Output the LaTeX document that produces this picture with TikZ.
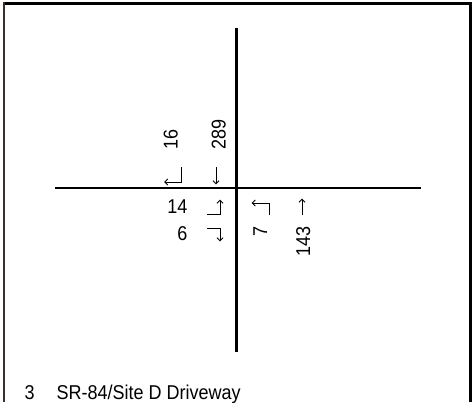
\documentclass[tikz,border=0pt]{standalone}
\usepackage{fontspec}
\setmainfont{Liberation Sans}[FakeStretch=0.9]
\usetikzlibrary{arrows.meta}
\definecolor{framebrown}{HTML}{3A3222}
\tikzset{
  road/.style={line width=2.5pt, line cap=butt},
  framebar/.style={line width=2.6pt},
  turnarrow/.style={line width=0.9pt, -{Straight Barb[length=3.2pt,width=6pt,line width=0.9pt]}},
  vol/.style={inner sep=0pt, font=\fontsize{20}{22}\selectfont},
}
\begin{document}
\begin{tikzpicture}[x=1pt,y=-1pt]
\useasboundingbox (0,0) rectangle (474,402);
% frame
\draw[framebar] (3,3.5) -- (471.5,3.5);
\draw[line width=2pt, framebrown] (4,2.3) -- (4,402);
\draw[framebar] (470.5,2.3) -- (470.5,402);
% roads
\coordinate (nEnd) at (236.5,28);
\coordinate (sEnd) at (236.5,352);
\coordinate (wEnd) at (55,188);
\coordinate (eEnd) at (421,188);
\draw[road] (nEnd) -- (sEnd);
\draw[road] (wEnd) -- (eEnd);
% volumes
\node[vol, rotate=90, anchor=base west] (v16) at (177.5,150) {16};
\node[vol, rotate=90, anchor=base west] (v289) at (225.5,150) {289};
\node[vol, anchor=base east] (v14) at (187.5,213) {14};
\node[vol, anchor=base east] (v6) at (187.5,240) {6};
\node[vol, rotate=90, anchor=base east] (v7) at (267,226.5) {7};
\node[vol, rotate=90, anchor=base east] (v143) at (310,226.5) {143};
% turn arrows
\coordinate (a1s) at (181,167);
\coordinate (a1c) at (181,182);
\coordinate (a1e) at (164,182);
\draw[turnarrow] (a1s) -- (a1c) -- (a1e);
\coordinate (a2s) at (216,167);
\coordinate (a2e) at (216,184.5);
\draw[turnarrow] (a2s) -- (a2e);
\coordinate (a3s) at (207,214);
\coordinate (a3c) at (220,214);
\coordinate (a3e) at (220,199.5);
\draw[turnarrow] (a3s) -- (a3c) -- (a3e);
\coordinate (a4s) at (207,228);
\coordinate (a4c) at (220,228);
\coordinate (a4e) at (220,241.5);
\draw[turnarrow] (a4s) -- (a4c) -- (a4e);
\coordinate (a5s) at (269,215);
\coordinate (a5c) at (269,203);
\coordinate (a5e) at (251.5,203);
\draw[turnarrow] (a5s) -- (a5c) -- (a5e);
\coordinate (a6s) at (302,215);
\coordinate (a6e) at (302,198.5);
\draw[turnarrow] (a6s) -- (a6e);
% title
\node[vol, anchor=base west] (num) at (24.5,399.5) {3};
\node[vol, anchor=base west] (title) at (56.5,399.5) {SR-84/Site D Driveway};
\end{tikzpicture}
\end{document}
